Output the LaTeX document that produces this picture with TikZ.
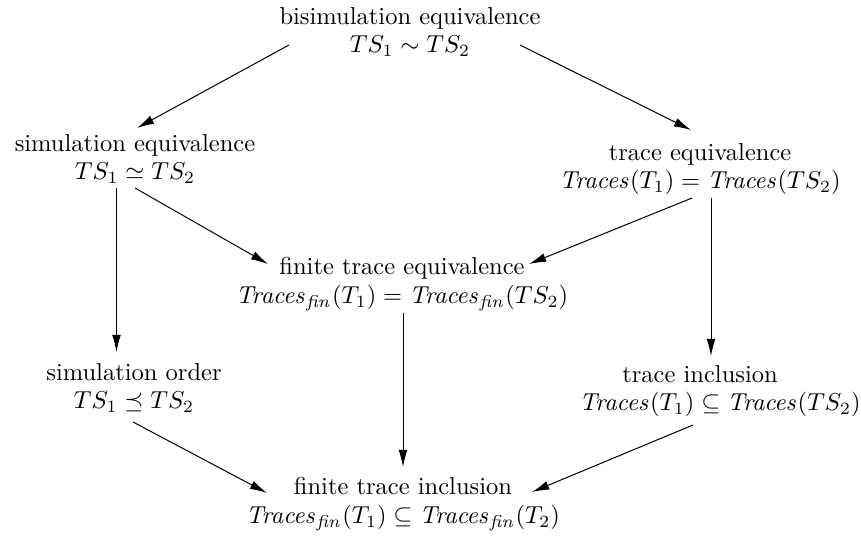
\documentclass[tikz,border=0pt]{standalone}
\usetikzlibrary{arrows.meta,calc}
\begin{document}
\begin{tikzpicture}[x=0.408pt,y=-0.408pt,
  lbl/.style={align=center,inner sep=0pt,font=\fontsize{10}{11.6}\selectfont},
  arr/.style={-{Latex[length=7pt,width=3.6pt]},line width=0.41pt}]
\useasboundingbox (0,0) rectangle (861,535);
\node[lbl] (bisim)   at (410,32)  {bisimulation equivalence\\$TS_1\sim TS_2$};
\node[lbl] (simeq)   at (135,159) {simulation equivalence\\$TS_1\simeq TS_2$};
\node[lbl] (treq)    at (700,169) {trace equivalence\\$\mathit{Traces}(T_1)=\mathit{Traces}(TS_2)$};
\node[lbl] (fineq)   at (402,284) {finite trace equivalence\\$\mathit{Traces}_{\mathit{fin}}(T_1)=\mathit{Traces}_{\mathit{fin}}(TS_2)$};
\node[lbl] (simord)  at (134,388) {simulation order\\$TS_1\preceq TS_2$};
\node[lbl] (trincl)  at (720,391) {trace inclusion\hspace*{16.3pt}\\$\mathit{Traces}(T_1)\subseteq\mathit{Traces}(TS_2)$};
\node[lbl] (finincl) at (403,504) {finite trace inclusion\\$\mathit{Traces}_{\mathit{fin}}(T_1)\subseteq\mathit{Traces}_{\mathit{fin}}(T_2)$};
\draw[arr] ($(bisim.center)+(-121,13)$) -- ($(simeq.center)+(2,-31)$);
\draw[arr] ($(bisim.center)+(110,13)$) -- ($(treq.center)+(-9,-39)$);
\draw[arr] ($(simeq.center)+(-18.5,29)$) -- ($(simord.center)+(-17.5,-36)$);
\draw[arr] ($(simeq.center)+(0,29)$) -- ($(fineq.center)+(-134,-20)$);
\draw[arr] ($(treq.center)+(-8,29)$) -- ($(fineq.center)+(127,-20)$);
\draw[arr] ($(treq.center)+(11,29)$) -- ($(trincl.center)+(-9,-35)$);
\draw[arr] ($(fineq.center)+(1,29)$) -- ($(finincl.center)+(0,-37)$);
\draw[arr] ($(simord.center)+(-1,34)$) -- ($(finincl.center)+(-136,-11)$);
\draw[arr] ($(trincl.center)+(-27,34)$) -- ($(finincl.center)+(129,-12)$);
\end{tikzpicture}
\end{document}
